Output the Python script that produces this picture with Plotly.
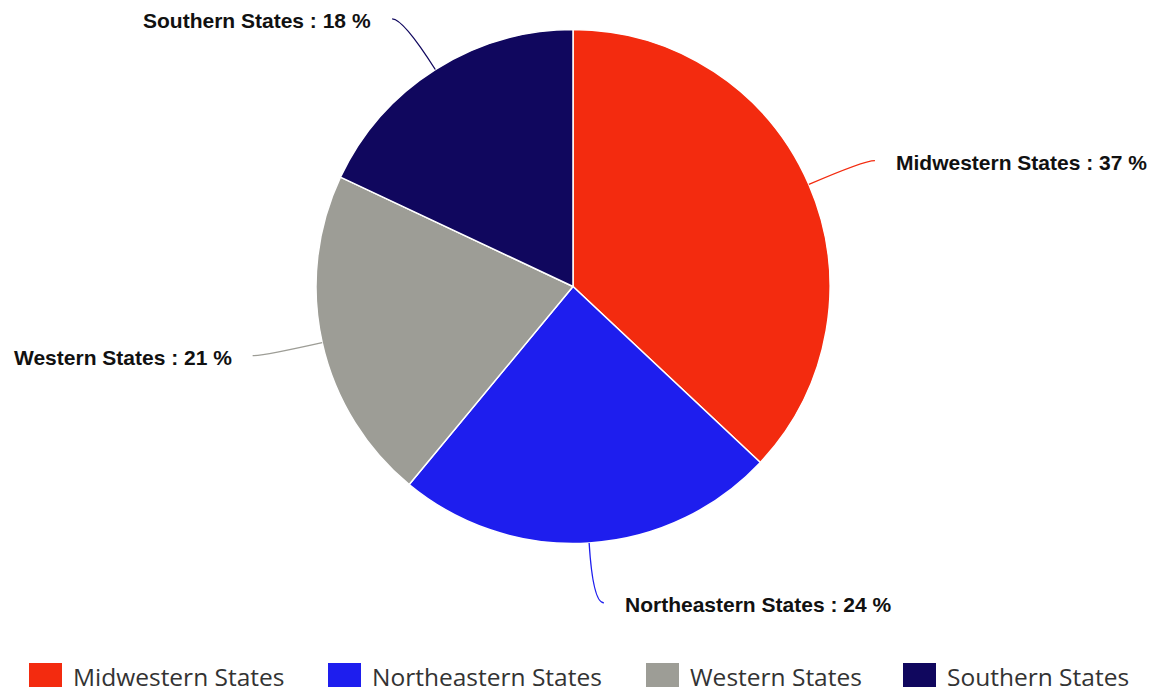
import math
import plotly.graph_objects as go

# ---- data ----
labels = ["Midwestern States", "Northeastern States", "Western States", "Southern States"]
values = [37, 24, 21, 18]
colors = ["#F32B0F", "#1E1EEE", "#9D9D96", "#10075E"]

# ---- layout constants (page pixels) ----
PAGE_W, PAGE_H = 1157, 692
OFF = 8                              # default body margin of the html page
W, H = PAGE_W - OFF, PAGE_H - OFF
CX, CY, R = 573, 286.5, 257          # pie centre / radius in page pixels
LEAD, HOOK, GAP = 60, 11, 19         # connector geometry
LEG_X = [29, 328, 646, 903]          # legend item starts
LEG_Y0, LEG_Y1 = 663, 687

def px(x):
    return (x - OFF) / W

def py(y):
    return 1 - (y - OFF) / H

fig = go.Figure(go.Pie(
    labels=labels, values=values, sort=False, direction="clockwise", rotation=0,
    marker=dict(colors=colors, line=dict(color="white", width=1.5)),
    textinfo="none", showlegend=False, hoverinfo="label+percent",
    domain=dict(x=[px(CX - R), px(CX + R)], y=[py(CY + R), py(CY - R)]),
))

shapes, annotations = [], []
total = sum(values)
cum = 0
for lab, v, col in zip(labels, values, colors):
    theta = 2 * math.pi * (cum + v / 2) / total
    cum += v
    s, c = math.sin(theta), math.cos(theta)
    x0, y0 = CX + R * s, CY - R * c
    ex, ey = CX + (R + LEAD) * s, CY - (R + LEAD) * c
    sign = 1 if s >= 0 else -1
    x2, y2 = ex + sign * HOOK, ey
    path = f"M {px(x0)},{py(y0)} Q {px(ex)},{py(ey)} {px(x2)},{py(y2)}"
    shapes.append(dict(type="path", path=path, xref="paper", yref="paper",
                       line=dict(color=col, width=1.3)))
    pct = round(100 * v / total)
    annotations.append(dict(
        x=px(x2 + sign * GAP), y=py(y2 + 2), xref="paper", yref="paper",
        text=f"<b>{lab} : {pct} %</b>", showarrow=False,
        xanchor="left" if sign > 0 else "right", yanchor="middle",
        font=dict(family="Liberation Sans, Arial", size=21, color="#111111"),
    ))

# custom legend
for lab, col, lx in zip(labels, colors, LEG_X):
    shapes.append(dict(type="rect", xref="paper", yref="paper",
                       x0=px(lx), x1=px(lx + 33), y0=py(LEG_Y1), y1=py(LEG_Y0),
                       fillcolor=col, line=dict(width=0)))
    annotations.append(dict(
        x=px(lx + 42), y=py((LEG_Y0 + LEG_Y1) / 2 + 1), xref="paper", yref="paper",
        text=lab, showarrow=False, xanchor="left", yanchor="middle",
        font=dict(family="Open Sans", size=24.5, color="#333333"),
    ))

fig.update_layout(
    width=W, height=H, margin=dict(l=0, r=0, t=0, b=0),
    paper_bgcolor="white", plot_bgcolor="white",
    shapes=shapes, annotations=annotations, showlegend=False,
)

fig.write_html("out.html")
